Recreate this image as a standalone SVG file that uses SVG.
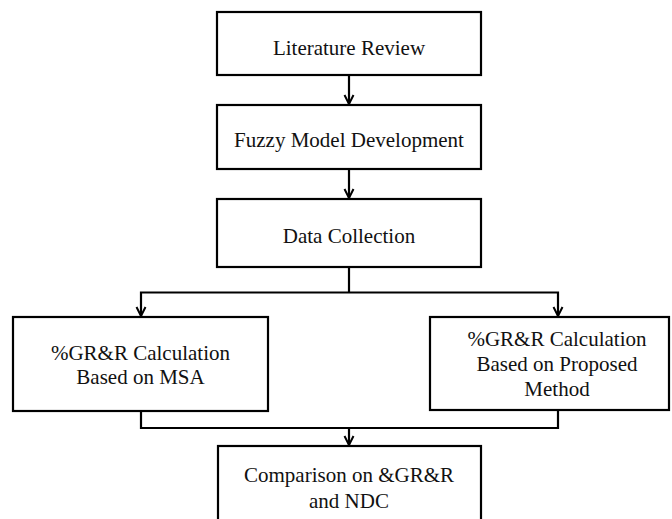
<svg xmlns="http://www.w3.org/2000/svg" width="672" height="519" viewBox="0 0 672 519">
<defs>
<marker id="arr" viewBox="0 0 12 12" refX="11" refY="6" markerWidth="12" markerHeight="12" markerUnits="userSpaceOnUse" orient="auto">
<path d="M2,1.5 L11,6 L2,10.5" fill="none" stroke="#000" stroke-width="2"/>
</marker>
<style>
.box{fill:#fff;stroke:#000;stroke-width:2.2}
.t{font-family:"Liberation Serif","Times New Roman",serif;font-size:21px;fill:#111;text-anchor:middle}
.c{fill:none;stroke:#000;stroke-width:2.2}
</style>
</defs>
<rect width="672" height="519" fill="#fff"/>
<g id="connectors">
<path class="c" d="M349,75 V104" marker-end="url(#arr)"/>
<path class="c" d="M349,169 V198" marker-end="url(#arr)"/>
<path class="c" d="M349,267 V292.5"/>
<path class="c" d="M349,292.5 H141 V316" marker-end="url(#arr)"/>
<path class="c" d="M349,292.5 H558 V316" marker-end="url(#arr)"/>
<path class="c" d="M141,411 V428 H558 V410"/>
<path class="c" d="M349,428 V445" marker-end="url(#arr)"/>
</g>
<g id="n1">
<rect class="box" x="217" y="12" width="264" height="63"/>
<text class="t" x="349" y="55">Literature Review</text>
</g>
<g id="n2">
<rect class="box" x="217" y="105" width="264" height="64"/>
<text class="t" x="349" y="147">Fuzzy Model Development</text>
</g>
<g id="n3">
<rect class="box" x="217" y="199" width="264" height="68"/>
<text class="t" x="349" y="243">Data Collection</text>
</g>
<g id="n4">
<rect class="box" x="13" y="317" width="255" height="94"/>
<text class="t" x="140.5" y="360">%GR&amp;R Calculation</text>
<text class="t" x="140.5" y="384">Based on MSA</text>
</g>
<g id="n5">
<rect class="box" x="430" y="317" width="239" height="93"/>
<text class="t" x="557" y="346">%GR&amp;R Calculation</text>
<text class="t" x="557" y="371">Based on Proposed</text>
<text class="t" x="557" y="396">Method</text>
</g>
<g id="n6">
<rect class="box" x="218" y="446" width="263" height="90"/>
<text class="t" x="349" y="482">Comparison on &amp;GR&amp;R</text>
<text class="t" x="349" y="508">and NDC</text>
</g>
</svg>
